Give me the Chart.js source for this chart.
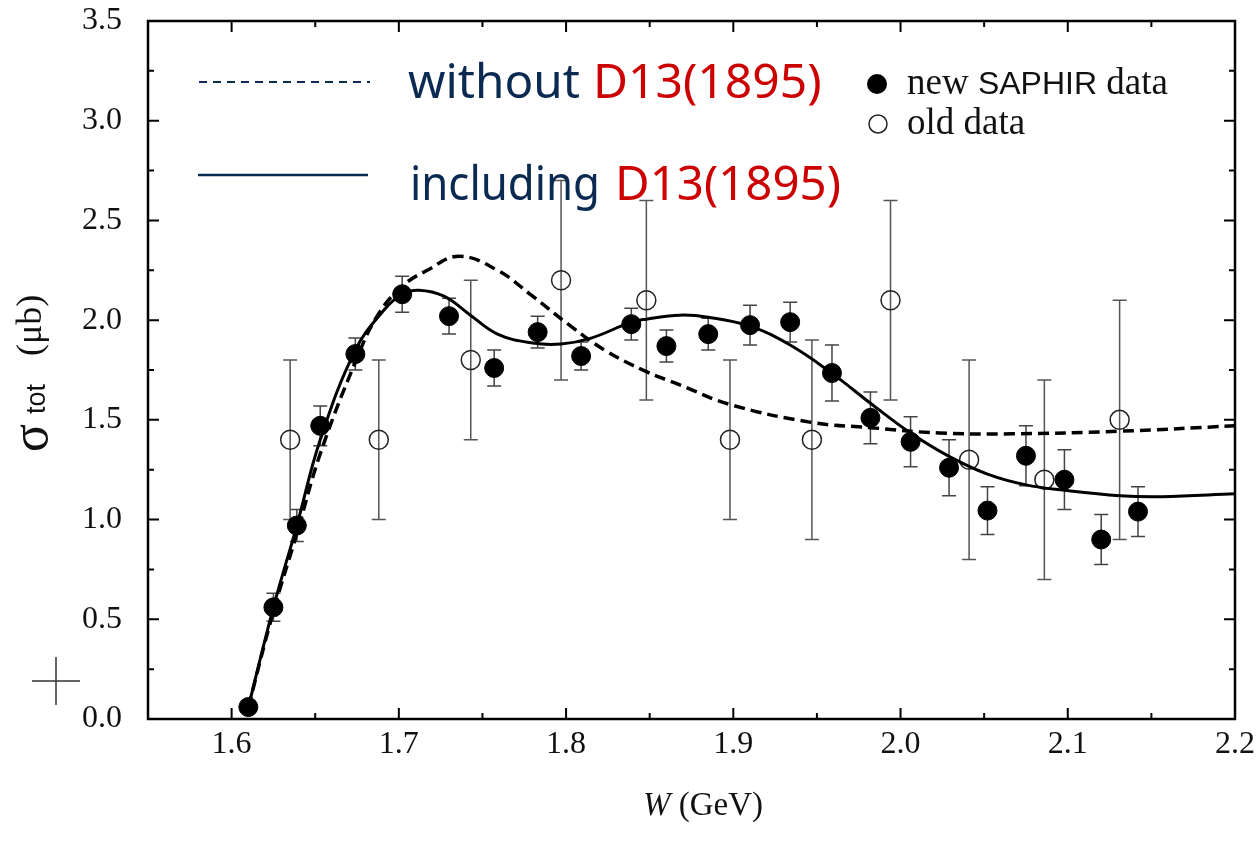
<!DOCTYPE html>
<html>
<head>
<meta charset="utf-8">
<script src="https://cdn.jsdelivr.net/npm/chart.js@4.4.1/dist/chart.umd.min.js"></script>
<style>
    html, body { margin: 0; padding: 0; background: #fff; }
    #wrap { position: relative; width: 1259px; height: 849px; }
</style>
</head>
<body>
<div id="wrap"><canvas id="chart" width="1259" height="849"></canvas></div>
<script>
/* global Chart */
// new SAPHIR data (filled)
const W_NEW = [1.610, 1.625, 1.639, 1.653, 1.674, 1.702, 1.730, 1.757, 1.783, 1.809, 1.839, 1.860,
    1.885, 1.910, 1.934, 1.959, 1.982, 2.006, 2.029, 2.052, 2.075, 2.098, 2.120, 2.142];
const SIG_NEW = [0.06, 0.56, 0.97, 1.47, 1.83, 2.13, 2.02, 1.76, 1.94, 1.82, 1.98, 1.87,
    1.93, 1.975, 1.99, 1.735, 1.51, 1.39, 1.26, 1.045, 1.32, 1.20, 0.90, 1.04];
const ERR_NEW = [0.02, 0.07, 0.08, 0.10, 0.08, 0.09, 0.09, 0.09, 0.08, 0.07, 0.08, 0.08,
    0.08, 0.10, 0.10, 0.14, 0.13, 0.125, 0.14, 0.12, 0.15, 0.15, 0.125, 0.125];

// old data (open)
const W_OLD = [1.635, 1.688, 1.743, 1.797, 1.848, 1.898, 1.947, 1.994, 2.041, 2.086, 2.131];
const SIG_OLD = [1.4, 1.4, 1.8, 2.2, 2.1, 1.4, 1.4, 2.1, 1.3, 1.2, 1.5];
const ERR_OLD = [0.4, 0.4, 0.4, 0.5, 0.5, 0.4, 0.5, 0.5, 0.5, 0.5, 0.6];

// model curves
const W_WITH = [1.610, 1.625, 1.639, 1.653, 1.674, 1.691, 1.702, 1.712, 1.727, 1.742, 1.759, 1.780,
    1.797, 1.815, 1.839, 1.848, 1.868, 1.885, 1.910, 1.934, 1.959, 1.983, 2.006, 2.029, 2.052,
    2.075, 2.098, 2.131, 2.156, 2.200];
const SIG_WITH = [0.06, 0.56, 0.97, 1.40, 1.85, 2.05, 2.13, 2.15, 2.12, 2.03, 1.93, 1.885,
    1.88, 1.91, 1.99, 2.005, 2.025, 2.015, 1.97, 1.875, 1.733, 1.577, 1.434, 1.317, 1.228,
    1.174, 1.147, 1.12, 1.115, 1.129];
const W_WITHOUT = [1.610, 1.625, 1.639, 1.653, 1.674, 1.687, 1.702, 1.717, 1.736, 1.759, 1.780,
    1.802, 1.823, 1.848, 1.868, 1.898, 1.947, 1.982, 2.023, 2.067, 2.131, 2.200];
const SIG_WITHOUT = [0.06, 0.54, 0.93, 1.33, 1.79, 2.02, 2.17, 2.25, 2.32, 2.25, 2.12,
    1.975, 1.85, 1.742, 1.676, 1.577, 1.487, 1.461, 1.434, 1.43, 1.443, 1.47];

const X_TICKS = [1.6, 1.7, 1.8, 1.9, 2.0, 2.1, 2.2];
const Y_TICKS = [0.0, 0.5, 1.0, 1.5, 2.0, 2.5, 3.0, 3.5];

const NAVY = '#0b2a52';
const RED = '#cc0000';
const SERIF = '"Liberation Serif", "Times New Roman", serif';
const SANS = '"Liberation Sans", Arial, sans-serif';
const COMIC = '"Comic Sans MS", "Noto Sans", sans-serif';

const pts = (xs, ys) => xs.map((x, i) => ({ x: x, y: ys[i] }));

const errorBars = {
    id: 'errorBars',
    beforeDatasetsDraw(chart) {
        const ctx = chart.ctx;
        const xs = chart.scales.x, ys = chart.scales.y;
        ctx.save();
        chart.data.datasets.forEach(ds => {
            if (!ds.errors) return;
            ctx.strokeStyle = ds.errColor;
            ctx.lineWidth = 1.5;
            ds.data.forEach((p, i) => {
                const px = xs.getPixelForValue(p.x);
                const top = ys.getPixelForValue(p.y + ds.errors[i]);
                const bot = ys.getPixelForValue(p.y - ds.errors[i]);
                ctx.beginPath();
                ctx.moveTo(px, top); ctx.lineTo(px, bot);
                ctx.moveTo(px - 7, top); ctx.lineTo(px + 7, top);
                ctx.moveTo(px - 7, bot); ctx.lineTo(px + 7, bot);
                ctx.stroke();
            });
        });
        ctx.restore();
    }
};

const frame = {
    id: 'frame',
    afterDraw(chart) {
        const ctx = chart.ctx;
        const a = chart.chartArea;
        const xs = chart.scales.x, ys = chart.scales.y;
        ctx.save();
        ctx.strokeStyle = '#000';
        ctx.lineWidth = 2.5;
        ctx.strokeRect(a.left, a.top, a.right - a.left, a.bottom - a.top);
        ctx.lineWidth = 2;
        ctx.beginPath();
        for (let v = 1.6; v < 2.2; v += 0.05) {
            const px = xs.getPixelForValue(v);
            const len = Math.abs(v * 10 - Math.round(v * 10)) < 0.01 ? 11 : 6;
            ctx.moveTo(px, a.bottom); ctx.lineTo(px, a.bottom - len);
            ctx.moveTo(px, a.top); ctx.lineTo(px, a.top + len);
        }
        for (let v = 0.25; v < 3.5; v += 0.25) {
            const py = ys.getPixelForValue(v);
            const len = Math.abs(v * 2 - Math.round(v * 2)) < 0.01 ? 11 : 6;
            ctx.moveTo(a.left, py); ctx.lineTo(a.left + len, py);
            ctx.moveTo(a.right, py); ctx.lineTo(a.right - len, py);
        }
        ctx.stroke();

        // stray cross mark left of the axis
        ctx.strokeStyle = '#333';
        ctx.lineWidth = 1.5;
        ctx.beginPath();
        ctx.moveTo(32, 681); ctx.lineTo(80, 681);
        ctx.moveTo(56, 657); ctx.lineTo(56, 705);
        ctx.stroke();

        // axis titles
        ctx.fillStyle = '#111';
        ctx.textBaseline = 'alphabetic';
        ctx.textAlign = 'left';
        ctx.font = 'italic 33px ' + SERIF;
        const wW = ctx.measureText('W').width;
        ctx.font = '33px ' + SERIF;
        const wRest = ctx.measureText(' (GeV)').width;
        let x0 = 703 - (wW + wRest) / 2;
        ctx.font = 'italic 33px ' + SERIF;
        ctx.fillText('W', x0, 815);
        ctx.font = '33px ' + SERIF;
        ctx.fillText(' (GeV)', x0 + wW, 815);

        ctx.save();
        ctx.rotate(-Math.PI / 2);
        ctx.font = '52px ' + SERIF;
        ctx.fillText('σ', -452, 47);
        ctx.font = '27px ' + SANS;
        ctx.fillText('tot', -414, 45);
        ctx.font = '36px ' + SERIF;
        ctx.fillText('(μb)', -356, 41);
        ctx.restore();

        // curve legend
        ctx.strokeStyle = NAVY;
        ctx.lineWidth = 2;
        ctx.setLineDash([8, 6]);
        ctx.beginPath(); ctx.moveTo(199, 82); ctx.lineTo(370, 82); ctx.stroke();
        ctx.setLineDash([]);
        ctx.lineWidth = 2.5;
        ctx.beginPath(); ctx.moveTo(198, 175); ctx.lineTo(368, 175); ctx.stroke();

        ctx.font = '48px ' + COMIC;
        ctx.fillStyle = NAVY;
        ctx.fillText('without', 408, 98, 172);
        ctx.fillText('including', 410, 200, 190);
        ctx.fillStyle = RED;
        ctx.fillText('D13(1895)', 593, 98, 230);
        ctx.fillText('D13(1895)', 615, 200, 226);

        // data legend
        ctx.fillStyle = '#000';
        ctx.beginPath(); ctx.arc(877, 84, 10, 0, Math.PI * 2); ctx.fill();
        ctx.strokeStyle = '#222';
        ctx.lineWidth = 1.5;
        ctx.beginPath(); ctx.arc(878, 124, 9, 0, Math.PI * 2); ctx.stroke();
        ctx.fillStyle = '#111';
        let tx = 907;
        ctx.font = '37px ' + SERIF;
        ctx.fillText('new ', tx, 94);
        tx += ctx.measureText('new ').width;
        ctx.font = '32px ' + SANS;
        ctx.fillText('SAPHIR', tx, 94);
        tx += ctx.measureText('SAPHIR').width;
        ctx.font = '37px ' + SERIF;
        ctx.fillText(' data', tx, 94);
        ctx.fillText('old data', 907, 134);
        ctx.restore();
    }
};

new Chart(document.getElementById('chart'), {
    type: 'scatter',
    data: {
        datasets: [
            {
                type: 'line',
                data: pts(W_WITH, SIG_WITH),
                borderColor: '#000',
                borderWidth: 3,
                pointRadius: 0,
                tension: 0.4,
                fill: false
            },
            {
                type: 'line',
                data: pts(W_WITHOUT, SIG_WITHOUT),
                borderColor: '#000',
                borderWidth: 3.5,
                borderDash: [11, 6],
                pointRadius: 0,
                tension: 0.4,
                fill: false
            },
            {
                data: pts(W_NEW, SIG_NEW),
                errors: ERR_NEW,
                errColor: '#444',
                pointRadius: 9.5,
                pointBackgroundColor: '#000',
                pointBorderColor: '#000',
                pointBorderWidth: 1
            },
            {
                data: pts(W_OLD, SIG_OLD),
                errors: ERR_OLD,
                errColor: '#555',
                pointRadius: 9.5,
                pointBackgroundColor: 'rgba(255,255,255,0)',
                pointBorderColor: '#222',
                pointBorderWidth: 1.5
            }
        ]
    },
    options: {
        responsive: false,
        animation: false,
        events: [],
        layout: { padding: { top: 21, right: 24, left: 0, bottom: 0 } },
        plugins: {
            legend: { display: false },
            tooltip: { enabled: false }
        },
        scales: {
            x: {
                type: 'linear',
                min: 1.55,
                max: 2.2,
                afterBuildTicks: s => { s.ticks = X_TICKS.map(v => ({ value: v })); },
                afterFit: s => { s.height = 130; s.paddingLeft = 0; s.paddingRight = 0; },
                grid: { display: false, drawTicks: false },
                border: { display: false },
                ticks: {
                    color: '#111',
                    padding: 6,
                    maxRotation: 0,
                    autoSkip: false,
                    font: { family: SERIF, size: 32 },
                    callback: v => v.toFixed(1)
                }
            },
            y: {
                min: 0,
                max: 3.5,
                afterBuildTicks: s => { s.ticks = Y_TICKS.map(v => ({ value: v })); },
                afterFit: s => { s.width = 148; s.paddingTop = 0; s.paddingBottom = 0; },
                grid: { display: false, drawTicks: false },
                border: { display: false },
                ticks: {
                    color: '#111',
                    padding: 26,
                    autoSkip: false,
                    font: { family: SERIF, size: 32 },
                    callback: v => v.toFixed(1)
                }
            }
        }
    },
    plugins: [errorBars, frame]
});
</script>
</body>
</html>
